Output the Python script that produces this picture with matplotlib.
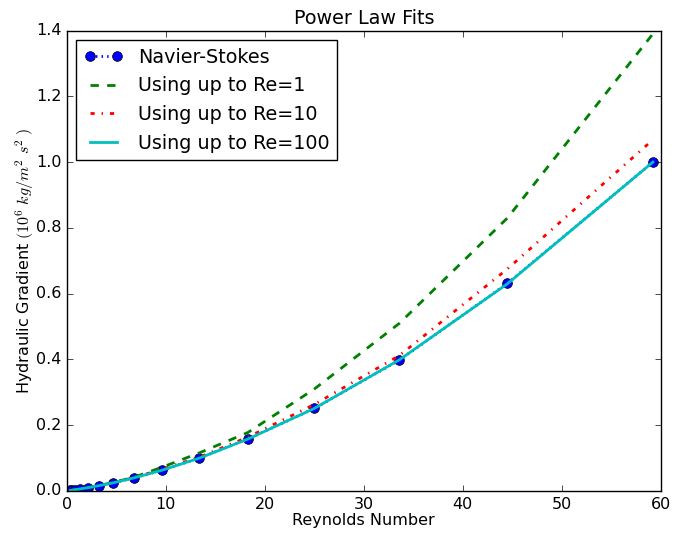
import matplotlib
matplotlib.use('Agg')
import matplotlib.pyplot as plt

# Reynolds numbers of the Navier-Stokes runs
reynolds = [0.34, 0.54, 0.86, 1.35, 2.1, 3.2, 4.7, 6.8, 9.6, 13.4, 18.3, 25.0, 33.6, 44.5, 59.2]
# hydraulic gradient, 10^6 kg/m^2 s^2
navier_stokes = [0.0016, 0.0025, 0.004, 0.0063, 0.010, 0.016, 0.025, 0.040, 0.063, 0.100, 0.158, 0.251, 0.398, 0.631, 1.000]
fit_re1 = [0.0016, 0.0025, 0.004, 0.0063, 0.010, 0.016, 0.026, 0.042, 0.072, 0.116, 0.178, 0.310, 0.510, 0.830, 1.390]
fit_re10 = [0.0016, 0.0025, 0.004, 0.0063, 0.010, 0.016, 0.025, 0.041, 0.066, 0.103, 0.164, 0.263, 0.412, 0.675, 1.068]
fit_re100 = [0.0016, 0.0025, 0.004, 0.0063, 0.010, 0.016, 0.025, 0.040, 0.063, 0.100, 0.158, 0.251, 0.399, 0.630, 1.000]

plt.style.use('classic')
plt.rcParams['figure.facecolor'] = 'white'
plt.rcParams['savefig.facecolor'] = 'white'
plt.rcParams['font.size'] = 11.5

fig = plt.figure(figsize=(6.75, 5.36), dpi=100)
ax = fig.add_axes([0.099, 0.084, 0.880, 0.859])

ax.plot(reynolds, navier_stokes, 'bo:', lw=2, markersize=7, label='Navier-Stokes')
ax.plot(reynolds, fit_re1, 'g--', lw=2, label='Using up to Re=1')
ax.plot(reynolds, fit_re10, 'r-.', lw=2, label='Using up to Re=10')
ax.plot(reynolds, fit_re100, 'c-', lw=2, label='Using up to Re=100')

ax.set_xlim(0, 60)
ax.set_ylim(0, 1.4)
ax.set_title('Power Law Fits')
ax.set_xlabel('Reynolds Number', labelpad=1)
ax.set_ylabel(r'Hydraulic Gradient $(10^6\ kg/m^2\ s^2\ )$', labelpad=0)
ax.legend(loc='upper left')

fig.savefig('out.png', dpi=100)
